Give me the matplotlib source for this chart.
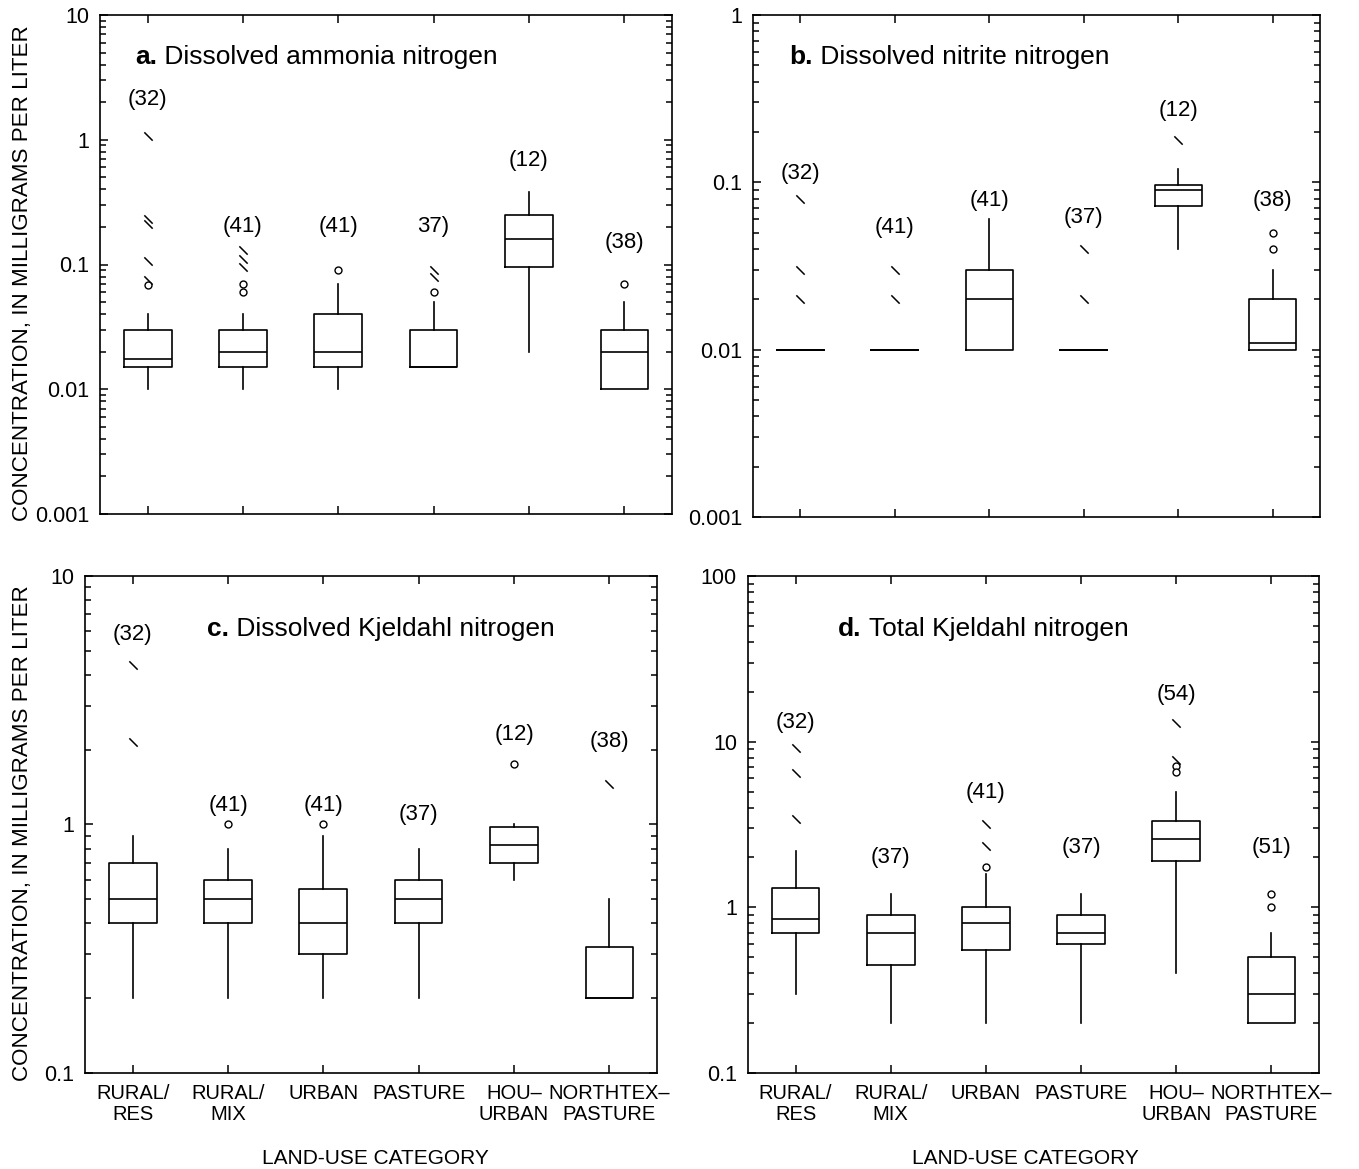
import matplotlib
matplotlib.use('Agg')
import matplotlib.pyplot as plt
from matplotlib.path import Path
from matplotlib.ticker import FixedLocator, FuncFormatter, LogLocator, NullFormatter

plt.rcParams['font.family'] = ['Liberation Sans', 'DejaVu Sans']

categories = ['RURAL/\nRES', 'RURAL/\nMIX', 'URBAN', 'PASTURE', 'HOU–\nURBAN', 'NORTHTEX–\nPASTURE']

# a. Dissolved ammonia nitrogen
a_low = [0.01, 0.01, 0.01, 0.015, 0.02, 0.01]
a_q1 = [0.015, 0.015, 0.015, 0.015, 0.095, 0.01]
a_med = [0.0175, 0.02, 0.02, 0.015, 0.16, 0.02]
a_q3 = [0.03, 0.03, 0.04, 0.03, 0.25, 0.03]
a_high = [0.04, 0.04, 0.07, 0.05, 0.38, 0.05]
a_out = [[0.068], [0.07, 0.06], [0.09], [0.06], [], [0.07]]
a_far = [[1.07, 0.23, 0.21, 0.107, 0.075], [0.13, 0.11, 0.095], [], [0.09, 0.08], [], []]
a_n = ['(32)', '(41)', '(41)', '37)', '(12)', '(38)']
a_n_at = [2.1, 0.2, 0.2, 0.2, 0.68, 0.15]

# b. Dissolved nitrite nitrogen
b_low = [0.01, 0.01, 0.01, 0.01, 0.04, 0.01]
b_q1 = [0.01, 0.01, 0.01, 0.01, 0.072, 0.01]
b_med = [0.01, 0.01, 0.02, 0.01, 0.09, 0.011]
b_q3 = [0.01, 0.01, 0.03, 0.01, 0.097, 0.02]
b_high = [0.01, 0.01, 0.06, 0.01, 0.12, 0.03]
b_out = [[], [], [], [], [], [0.05, 0.04]]
b_far = [[0.08, 0.03, 0.02], [0.03, 0.02], [], [0.04, 0.02], [0.18], []]
b_n = ['(32)', '(41)', '(41)', '(37)', '(12)', '(38)']
b_n_at = [0.113, 0.054, 0.078, 0.062, 0.27, 0.078]

# c. Dissolved Kjeldahl nitrogen
c_low = [0.2, 0.2, 0.2, 0.2, 0.6, 0.2]
c_q1 = [0.4, 0.4, 0.3, 0.4, 0.7, 0.2]
c_med = [0.5, 0.5, 0.4, 0.5, 0.83, 0.2]
c_q3 = [0.7, 0.6, 0.55, 0.6, 0.98, 0.32]
c_high = [0.9, 0.8, 0.9, 0.8, 1.0, 0.5]
c_out = [[], [1.0], [1.0], [], [1.75], []]
c_far = [[4.4, 2.15], [], [], [], [], [1.45]]
c_n = ['(32)', '(41)', '(41)', '(37)', '(12)', '(38)']
c_n_at = [5.8, 1.19, 1.19, 1.10, 2.3, 2.15]

# d. Total Kjeldahl nitrogen
d_low = [0.3, 0.2, 0.2, 0.2, 0.4, 0.2]
d_q1 = [0.7, 0.45, 0.55, 0.6, 1.9, 0.2]
d_med = [0.85, 0.7, 0.8, 0.7, 2.6, 0.3]
d_q3 = [1.3, 0.9, 1.0, 0.9, 3.3, 0.5]
d_high = [2.2, 1.2, 1.6, 1.2, 5.0, 0.7]
d_out = [[], [], [1.75], [], [7.1, 6.6], [1.2, 1.0]]
d_far = [[9.2, 6.5, 3.4], [], [3.2, 2.35], [], [13.0, 7.8], []]
d_n = ['(32)', '(37)', '(41)', '(37)', '(54)', '(51)']
d_n_at = [13.0, 2.0, 4.9, 2.3, 19.3, 2.3]

slash = Path([(-1, 1), (1, -1)], [Path.MOVETO, Path.LINETO])


def draw_panel(ax, low, q1, med, q3, high, out, far, n, n_at, ylim, letter, title, title_xy, bottom):
    stats = []
    for i in range(len(med)):
        stats.append(dict(whislo=low[i], q1=q1[i], med=med[i], q3=q3[i], whishi=high[i], fliers=[]))
    pos = list(range(1, len(med) + 1))
    lw = 1.2
    ax.bxp(stats, positions=pos, widths=0.5, showfliers=False, showcaps=False, manage_ticks=False,
           boxprops=dict(color='k', lw=lw), medianprops=dict(color='k', lw=lw),
           whiskerprops=dict(color='k', lw=lw))
    for i, p in enumerate(pos):
        if far[i]:
            ax.plot([p] * len(far[i]), far[i], ls='none', marker=slash, mfc='none', mec='k', ms=6, mew=1.1)
        if out[i]:
            ax.plot([p] * len(out[i]), out[i], ls='none', marker='o', mfc='white', mec='k', ms=5, mew=1.0)
        ax.text(p, n_at[i], n[i], ha='center', va='center', fontsize=16)

    ax.set_yscale('log')
    ax.set_ylim(*ylim)
    ax.set_xlim(0.5, 6.5)
    ax.yaxis.set_major_locator(LogLocator(base=10))
    ax.yaxis.set_major_formatter(FuncFormatter(lambda v, p: f'{v:g}'))
    ax.yaxis.set_minor_locator(LogLocator(base=10, subs=range(2, 10)))
    ax.yaxis.set_minor_formatter(NullFormatter())
    ax.xaxis.set_major_locator(FixedLocator(pos))
    ax.xaxis.set_minor_locator(FixedLocator([]))
    if bottom:
        ax.set_xticklabels(categories, fontsize=14.5, linespacing=1.12)
    else:
        ax.set_xticklabels([])
    ax.tick_params(which='both', direction='in', top=True, right=True, width=1.1)
    ax.tick_params(which='major', length=6)
    ax.tick_params(which='minor', length=4.5)
    ax.tick_params(axis='y', labelsize=15.5, pad=8)
    ax.tick_params(axis='x', pad=8)
    for s in ax.spines.values():
        s.set_linewidth(1.2)

    t1 = ax.text(title_xy[0], title_xy[1], letter, transform=ax.transAxes, fontsize=19,
                 fontweight='bold', ha='left', va='bottom')
    ax.annotate(' ' + title, xy=(1, 0), xycoords=t1, ha='left', va='bottom', fontsize=19)


fig = plt.figure(figsize=(13.59, 11.69), dpi=100)
W, H = 1359.0, 1169.0


def box(l, r, t, b):
    return [l / W, 1 - b / H, (r - l) / W, (b - t) / H]


ax_a = fig.add_axes(box(100, 672, 15, 514))
ax_b = fig.add_axes(box(753, 1320, 15, 517))
ax_c = fig.add_axes(box(85, 657, 576, 1073))
ax_d = fig.add_axes(box(748, 1319, 576, 1073))

draw_panel(ax_a, a_low, a_q1, a_med, a_q3, a_high, a_out, a_far, a_n, a_n_at, (0.001, 10),
           'a.', 'Dissolved ammonia nitrogen', (0.061, 0.892), False)
draw_panel(ax_b, b_low, b_q1, b_med, b_q3, b_high, b_out, b_far, b_n, b_n_at, (0.001, 1),
           'b.', 'Dissolved nitrite nitrogen', (0.0635, 0.892), False)
draw_panel(ax_c, c_low, c_q1, c_med, c_q3, c_high, c_out, c_far, c_n, c_n_at, (0.1, 10),
           'c.', 'Dissolved Kjeldahl nitrogen', (0.213, 0.870), True)
draw_panel(ax_d, d_low, d_q1, d_med, d_q3, d_high, d_out, d_far, d_n, d_n_at, (0.1, 100),
           'd.', 'Total Kjeldahl nitrogen', (0.158, 0.870), True)

ylab = 'CONCENTRATION, IN MILLIGRAMS PER LITER'
fig.text(23 / W, 1 - 273 / H, ylab, rotation=90, ha='center', va='center', fontsize=16.1)
fig.text(23 / W, 1 - 833 / H, ylab, rotation=90, ha='center', va='center', fontsize=16.1)
fig.text(375 / W, 1 - 1158 / H, 'LAND-USE CATEGORY', ha='center', va='center', fontsize=15)
fig.text(1025 / W, 1 - 1158 / H, 'LAND-USE CATEGORY', ha='center', va='center', fontsize=15)

fig.savefig('out.png', dpi=100, facecolor='white')
